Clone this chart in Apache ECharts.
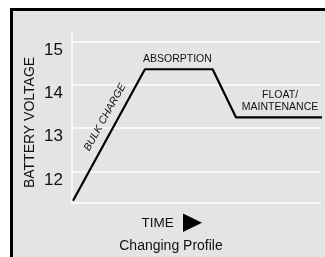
<!DOCTYPE html>
<html><head><meta charset="utf-8">
<script src="https://cdn.jsdelivr.net/npm/echarts@6/dist/echarts.min.js"></script>
<style>html,body{margin:0;padding:0;background:#fff}#c{width:325px;height:257px}</style>
</head><body><div id="c"></div>
<script>
// Data
const times = [0.4, 29.4, 56.7, 66.1, 101.2];
const volts = [11.32, 14.36, 14.36, 13.25, 13.25];
const yTicks = [12, 13, 14, 15];
const phaseNames = ['BULK CHARGE', 'ABSORPTION', 'FLOAT/\nMAINTENANCE'];
const phaseAt = [[13.3, 13.25], [42.5, 14.36], [83.9, 13.25]];
const yName = 'BATTERY VOLTAGE';
const xName = 'TIME';
const chartTitle = 'Changing Profile';

const FONT = '"Liberation Sans", Arial, Helvetica, sans-serif';
const chart = echarts.init(document.getElementById('c'));
const base = {
  animation: false,
  backgroundColor: '#fff',
  grid: { left: 72, right: 5, top: 32, bottom: 54 },
  xAxis: {
    type: 'value', min: 0, max: 100,
    axisLine: { show: true, lineStyle: { color: '#fff', width: 1.5 } },
    axisTick: { show: false }, axisLabel: { show: false }, splitLine: { show: false }
  },
  yAxis: {
    type: 'value', min: 11.27, max: 15.22,
    name: yName, nameLocation: 'middle', nameGap: 35, nameRotate: 90, nameMoveOverlap: false,
    nameTextStyle: { fontFamily: FONT, fontSize: 14, color: '#111', padding: [0, 0, 0, -10] },
    axisLine: { show: true, lineStyle: { color: '#fff', width: 1.5 } },
    axisTick: { show: false },
    axisLabel: { customValues: yTicks, fontFamily: FONT, fontSize: 17, color: '#111', margin: 9, verticalAlign: 'top' },
    splitLine: { show: false }
  },
  series: [{
    type: 'line', data: times.map((t, i) => [t, volts[i]]), showSymbol: false, clip: false,
    lineStyle: { color: '#000', width: 2.2 }, z: 5,
    markLine: {
      silent: true, symbol: ['none', 'none'], label: { show: false },
      lineStyle: { color: '#fff', width: 1.5, type: 'solid' },
      data: yTicks.map(v => ({ yAxis: v }))
    }
  }]
};
chart.setOption(base);

const p = phaseAt.map(d => chart.convertToPixel({ gridIndex: 0 }, d));
chart.setOption({
  graphic: [
    { type: 'rect', z: -10, shape: { x: 11.5, y: 9.5, width: 340, height: 270 },
      style: { fill: '#e4e4e4', stroke: '#000', lineWidth: 3 } },
    { type: 'text', x: p[0][0], y: p[0][1], rotation: 61 * Math.PI / 180, z: 10,
      style: { text: phaseNames[0], fontFamily: FONT, fontStyle: 'italic', fontSize: 10.5, fill: '#111', align: 'center', verticalAlign: 'middle' } },
    { type: 'text', x: p[1][0], y: p[1][1] - 10, z: 10,
      style: { text: phaseNames[1], fontFamily: FONT, fontSize: 10.5, fill: '#111', align: 'center', verticalAlign: 'middle' } },
    { type: 'text', x: p[2][0], y: p[2][1] - 16, z: 10,
      style: { text: phaseNames[2], fontFamily: FONT, fontSize: 10.5, lineHeight: 12, fill: '#111', align: 'center', verticalAlign: 'middle' } },
    { type: 'text', x: 141.5, y: 223.5, z: 10,
      style: { text: xName, fontFamily: FONT, fontSize: 13.5, fill: '#111', align: 'left', verticalAlign: 'middle' } },
    { type: 'polygon', z: 10, shape: { points: [[183, 213.5], [183, 232], [202, 222.8]] }, style: { fill: '#000' } },
    { type: 'text', x: 171, y: 246.5, z: 10,
      style: { text: chartTitle, fontFamily: FONT, fontSize: 14, fill: '#111', align: 'center', verticalAlign: 'middle' } }
  ]
});
</script></body></html>
